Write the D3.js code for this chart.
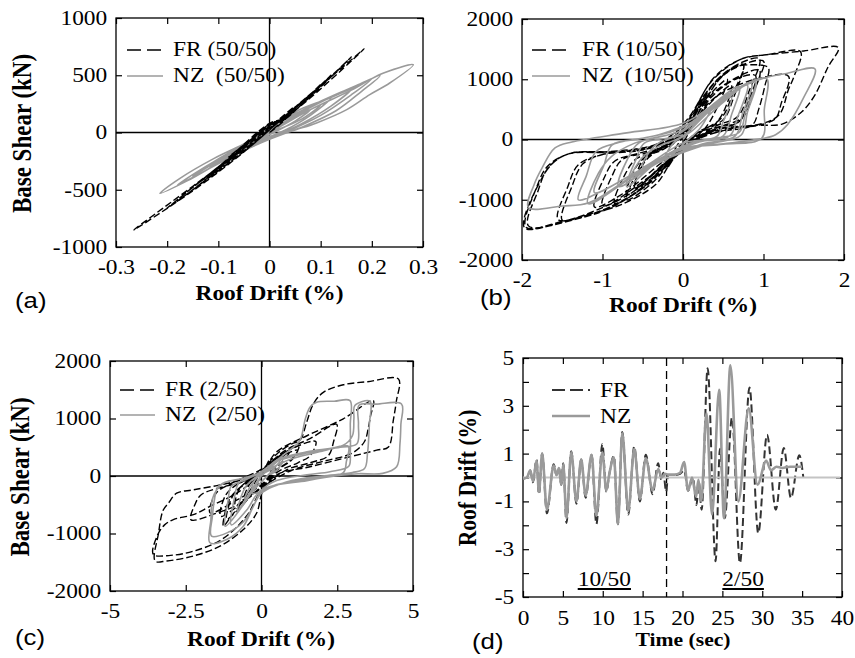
<!DOCTYPE html>
<html>
<head>
<meta charset="utf-8">
<script src="https://cdn.jsdelivr.net/npm/d3@7"></script>
<style>
  body { margin: 0; background: #fff; }
  svg { display: block; }
</style>
</head>
<body>
<svg id="chart" width="855" height="658"></svg>
<script>
// ---- data ----
// (a) 50/50 : [roof drift %, base shear kN]
const frA = [
  [0,0],[0.03,110],[0.05,230],
  [0.02,120],[-0.03,-40],[-0.08,-215],
  [-0.05,-120],[0.0,60],[0.03,115],[0.1,420],
  [0.06,250],[0.0,30],[-0.05,-150],[-0.15,-470],
  [-0.11,-350],[-0.05,-120],[0.0,70],[0.03,120],[0.12,500],
  [0.08,330],[0.0,40],[-0.1,-300],[-0.2,-660],
  [-0.15,-480],[-0.05,-130],[0.0,75],[0.03,125],[0.16,660],
  [0.12,490],[0.03,140],[-0.05,-170],[-0.15,-510],[-0.265,-850],
  [-0.22,-700],[-0.1,-300],[0.0,80],[0.03,128],[0.185,730],
  [0.14,560],[0.05,220],[-0.05,-160],[-0.18,-600],
  [-0.13,-430],[-0.03,-50],[0.02,100],[0.1,410],
  [0.06,260],[-0.04,-130],[-0.12,-400],
  [-0.08,-250],[0.0,40],[0.05,200],[0.0,0]
]
const nzA = [
  [0,0],[0.04,120],[0.08,200],
  [0.05,100],[0.0,-20],[-0.06,-160],
  [-0.03,-80],[0.0,0],[0.06,170],[0.12,300],
  [0.08,150],[0.03,20],[-0.04,-110],[-0.1,-250],
  [-0.06,-140],[0.0,10],[0.08,230],[0.16,380],
  [0.12,230],[0.06,70],[0.0,-50],[-0.08,-200],[-0.15,-380],
  [-0.1,-230],[-0.04,-80],[0.02,90],[0.1,270],[0.17,410],[0.216,496],
  [0.18,360],[0.13,190],[0.07,60],[0.0,-60],[-0.08,-220],[-0.16,-420],[-0.214,-531],
  [-0.175,-400],[-0.11,-230],[-0.045,-90],[0.0,20],[0.053,186],[0.118,302],[0.183,432],[0.223,519],[0.281,592],
  [0.235,432],[0.196,331],[0.151,200],[0.092,84],[0.053,26],[0.0,-50],[-0.09,-250],[-0.18,-460],
  [-0.14,-340],[-0.07,-160],[0.0,0],[0.08,200],[0.16,370],[0.2,470],
  [0.16,330],[0.1,150],[0.03,0],[-0.05,-140],[-0.12,-320],
  [-0.08,-200],[-0.02,-50],[0.05,130],[0.1,240],
  [0.06,110],[0.0,0]
]

// (b) 10/50
const frB = [
  [0,0],[0.12,360],[0.3,780],
  [0.2,470],[0.05,60],[-0.2,-480],
  [-0.1,-160],[0.05,150],[0.3,800],[0.55,1130],[0.75,1230],
  [0.62,760],[0.48,360],[0.25,150],[-0.05,-160],[-0.35,-680],[-0.7,-1000],
  [-0.58,-560],[-0.45,-260],[-0.15,-100],[0.1,300],[0.4,950],[0.7,1220],[1.0,1300],
  [0.88,820],[0.75,380],[0.5,230],[0.15,90],[-0.14,-360],[-0.34,-746],[-0.76,-1075],[-1.2,-1250],[-1.5,-1340],
  [-1.38,-780],[-1.24,-400],[-0.95,-230],[-0.45,-160],[-0.05,60],[0.25,620],[0.55,1000],
  [0.42,520],[0.27,180],[0.0,-120],[-0.35,-620],[-0.85,-1100],[-1.35,-1330],[-1.92,-1433],
  [-1.8,-850],[-1.68,-480],[-1.45,-250],[-0.9,-210],[-0.35,-120],[0.0,180],[0.3,800],[0.6,1180],[0.85,1240],[1.06,1190],
  [1.02,906],[0.94,500],[0.86,240],[0.5,140],[0.1,20],[-0.3,-420],[-0.75,-900],[-1.1,-1120],
  [-0.98,-640],[-0.85,-360],[-0.55,-230],[-0.1,-40],[0.2,520],[0.5,1060],[0.75,1250],
  [0.63,700],[0.5,330],[0.2,130],[-0.15,-300],[-0.5,-800],[-0.85,-1060],
  [-0.72,-580],[-0.58,-320],[-0.25,-170],[0.08,220],[0.45,1000],[0.7,1260],[0.95,1340],
  [0.82,800],[0.68,380],[0.4,220],[0.0,-150],[-0.45,-760],[-1.0,-1180],[-1.5,-1370],[-1.97,-1463],
  [-1.75,-635],[-1.59,-360],[-1.38,-223],[-0.76,-196],[-0.3,-70],[0.05,300],[0.35,960],[0.7,1320],[1.05,1410],[1.46,1457],
  [1.38,1050],[1.31,830],[1.2,420],[1.0,270],[0.6,190],[0.2,60],[-0.2,-350],[-0.6,-820],
  [-0.48,-380],[-0.3,-170],[0.05,120],[0.35,700],[0.65,1000],[0.9,1060],
  [0.8,600],[0.7,300],[0.4,180],[0.0,-180],[-0.5,-800],[-1.0,-1170],[-1.5,-1360],[-1.95,-1455],
  [-1.82,-800],[-1.68,-440],[-1.4,-230],[-0.9,-200],[-0.3,-60],[0.05,330],[0.4,1050],[0.75,1350],[1.0,1400],[1.5,1470],[1.93,1524],
  [1.8,1200],[1.64,741],[1.48,466],[1.23,256],[0.9,234],[0.4,150],[0.0,-170],[-0.5,-760],[-1.0,-1130],[-1.55,-1330],
  [-1.43,-780],[-1.3,-420],[-1.0,-250],[-0.5,-170],[0.0,120],[0.4,700],[0.9,1000],[1.31,1050],
  [1.22,600],[1.15,350],[0.95,240],[0.6,180],[0.1,-50],[-0.4,-600],[-1.0,-1100],
  [-0.88,-600],[-0.75,-330],[-0.4,-200],[0.0,100],[0.4,800],[0.95,1150],
  [0.82,620],[0.7,300],[0.3,120],[-0.1,-250],[-0.7,-920],
  [-0.58,-450],[-0.4,-220],[0.0,50],[0.3,550],[0.6,900],
  [0.48,400],[0.3,130],[0.0,-150],[-0.6,-800],
  [-0.45,-300],[-0.2,-100],[0.1,150]
]
const nzB = [
  [0,0],[0.15,260],[0.35,520],
  [0.22,200],[0.05,-20],[-0.25,-380],
  [-0.12,-60],[0.1,130],[0.45,560],[0.8,900],
  [0.68,380],[0.58,60],[0.2,-40],[-0.25,-300],[-0.7,-780],
  [-0.58,-320],[-0.48,-60],[-0.1,60],[0.35,500],[0.65,820],[0.9,960],
  [0.78,480],[0.7,120],[0.4,20],[0.0,-120],[-0.6,-600],[-1.18,-1066],
  [-1.05,-560],[-0.89,-283],[-0.6,-60],[0.0,160],[0.35,560],[0.7,880],
  [0.6,400],[0.5,60],[0.1,-60],[-0.3,-330],[-0.66,-670],
  [-0.5,-290],[-0.31,-120],[0.0,60],[0.4,560],[0.85,930],
  [0.74,430],[0.65,60],[0.2,-90],[-0.5,-500],[-1.17,-1050],[-1.5,-1104],[-1.92,-1130],
  [-1.85,-750],[-1.75,-471],[-1.59,-141],[-1.38,-41],[-0.7,110],[0.0,268],[0.4,600],[0.75,900],[1.04,1010],
  [1.01,500],[0.98,25],[0.5,-80],[0.0,-160],[-0.6,-560],[-1.1,-880],
  [-0.98,-420],[-0.88,-90],[-0.5,20],[0.0,200],[0.5,700],[0.9,960],
  [0.8,450],[0.72,70],[0.3,-80],[-0.3,-380],[-0.8,-780],
  [-0.68,-300],[-0.55,-60],[0.0,160],[0.6,780],[1.0,1017],[1.3,1100],[1.64,1171],
  [1.5,700],[1.3,250],[1.15,80],[0.98,14],[0.5,-70],[0.0,-140],[-0.5,-480],[-1.0,-850],[-1.3,-1000],
  [-1.2,-600],[-1.08,-200],[-0.8,-50],[-0.3,80],[0.2,350],[0.6,700],
  [0.5,300],[0.42,50],[0.0,-60],[-0.5,-450],
  [-0.35,-100],[0.0,80]
]

// (c) 2/50
const frC = [
  [0,0],[0.25,280],[0.1,120],[-0.3,-250],[-0.6,-420],
  [-0.4,-150],[0,60],[0.1,120],
  [-0.3,-300],[-0.8,-600],[-1.15,-750],
  [-0.9,-300],[-0.4,-100],[-0.1,20],
  [-0.5,-350],[-1.0,-700],[-1.26,-874],
  [-1.05,-400],[-0.6,-150],[0,80],[0.5,380],[1.0,560],[1.27,620],[1.5,950],[1.71,1253],[2.04,1455],[2.7,1587],[3.5,1640],[4.52,1685],
  [4.45,1300],[4.35,966],[4.19,506],[3.8,449],[2.92,334],[1.6,161],[0.5,20],[0.05,-250],[-0.16,-644],[-0.6,-931],[-1.37,-1219],[-2.25,-1391],[-3.13,-1478],[-3.51,-1478],
  [-3.4,-1000],[-3.25,-600],[-3.07,-471],[-2.8,-299],[-2.25,-241],[-1.37,-155],[-0.5,-40],[0,90],[0.6,330],[1.2,450],
  [0.9,250],[0.4,80],[0,-150],[-0.82,-420],[-1.7,-640],
  [-1.5,-300],[-1.0,-130],[0,120],[0.8,450],[1.6,650],[2.48,900],
  [2.38,600],[2.2,350],[1.6,230],[0.8,100],[0,-250],[-0.5,-700],[-1.3,-1100],[-2.2,-1300],[-3.0,-1380],[-3.57,-1363],
  [-3.45,-1050],[-3.2,-850],[-2.91,-759],[-2.25,-672],[-1.7,-529],[-0.82,-299],[0,50],[0.5,420],[1.5,700],[2.7,995],[3.69,1311],
  [3.6,1050],[3.53,851],[3.4,600],[3.0,400],[2.0,250],[1.0,100],[0,-200],[-0.8,-500],[-1.5,-650],[-2.33,-760],
  [-2.2,-500],[-2.0,-330],[-1.5,-220],[-0.5,-80],[0,100],[0.8,420],[1.79,600],
  [1.6,350],[1.2,230],[0.5,60],[0,-200],[-0.6,-450],[-1.35,-700],
  [-1.2,-350],[-0.9,-180],[0,60],[0.6,350],[1.23,520],
  [1.0,280],[0.5,100],[0,-180],[-0.86,-520],
  [-0.7,-200],[0,50],[0.93,420],
  [0.6,200],[0.2,50]
]
const nzC = [
  [0,0],[0.3,150],[0.65,300],[0.4,120],[0,-100],[-0.55,-400],[-0.3,-120],[0,30],[-0.4,-300],[-0.8,-620],[-0.5,-170],[0,30],[-0.6,-500],[-1.2,-874],
  [-1.1,-420],[-1.0,-180],[-0.5,-60],[0,80],[0.5,276],[1.0,480],[1.27,621],[1.45,1000],[1.6,1196],[1.82,1282],[2.4,1300],[2.92,1311],
  [2.93,900],[2.93,400],[2.88,170],[2.26,75],[1.5,20],[0.5,-80],[0,-250],[-0.27,-529],[-0.6,-800],[-1.1,-980],[-1.65,-1046],
  [-1.62,-700],[-1.55,-400],[-1.45,-200],[-1.2,-110],[-0.6,-40],[0,60],[0.5,276],[1.5,420],[2.7,535],[3.0,700],[3.05,1000],[3.08,1225],[3.58,1300],
  [3.56,900],[3.5,400],[3.4,130],[3.0,60],[2.0,0],[1.0,-80],[0,-299],[-0.27,-529],[-0.6,-874],[-1.15,-1104],[-1.7,-1161],
  [-1.67,-759],[-1.62,-400],[-1.48,-241],[-1.26,-126],[-0.6,-40],[0,70],[0.5,250],[1.5,400],[2.6,500],[3.15,560],[3.2,900],[3.22,1230],[3.8,1250],[4.62,1253],
  [4.6,900],[4.57,563],[4.46,161],[4.0,46],[3.2,40],[2.7,17],[1.5,-80],[0,-241],[-0.5,-600],[-1.0,-850],
  [-0.9,-400],[-0.75,-120],[-0.4,-30],[0,60],[1.0,300],[2.0,430],[2.86,520],
  [2.8,250],[2.7,60],[1.5,-50],[0.5,-150],[-0.3,-300],
  [-0.2,-50],[0.2,80],[0.7,250],
  [0.5,100],[0.3,30],[0.45,120]
]

// (d) roof drift history : [time s, drift %]
const frDrift = [
  [0,-0.05],[0.5,0.0],[0.9,0.3],[1.25,-0.2],[1.7,0.75],[2.0,-0.7],[2.4,1.0],[3.0,-1.5],
  [3.85,0.55],[4.2,0.1],[4.5,0.4],[4.8,-0.3],[5.05,0.6],[5.45,-1.9],[6.05,1.1],[6.7,-1.1],
  [7.3,0.75],[7.85,-0.85],[8.6,0.95],[9.2,-1.95],[9.95,1.4],[10.45,-0.6],[10.8,0.1],[11.4,0.9],
  [11.9,-1.95],[12.45,1.9],[13.2,-1.55],[13.95,1.3],[14.65,-1.0],[15.4,0.95],[16.25,-0.7],
  [16.95,0.6],[17.35,-0.1],[17.6,0.2],[17.95,-0.6],[18.2,0.1],
  [19.0,0.1],[19.7,0.15],[20.2,0.3],[20.7,-0.55],[21.3,0.0],[21.75,-1.15],[22.05,-0.2],[22.4,-1.35],
  [23.15,4.57],[24.15,-3.5],[24.7,1.2],[25.3,-1.7],[26.2,2.5],[27.2,-3.58],[28.4,3.77],[29.5,-2.33],
  [30.6,1.79],[31.7,-1.35],[32.7,1.23],[33.6,-0.86],[34.65,0.93],[35.15,0.0]
]
const nzDrift = [
  [0,-0.05],[0.5,0.0],[0.9,0.3],[1.25,-0.15],[1.7,0.7],[2.0,-0.6],[2.4,1.0],[3.0,-1.35],
  [3.85,0.5],[4.2,0.1],[4.5,0.4],[4.8,-0.3],[5.05,0.55],[5.45,-1.7],[6.05,1.05],[6.7,-1.0],
  [7.3,0.75],[7.85,-0.75],[8.6,0.95],[9.2,-1.6],[9.95,1.05],[10.45,-0.55],[10.8,0.1],[11.4,0.85],
  [11.9,-1.95],[12.45,1.85],[13.2,-1.4],[13.95,1.2],[14.65,-0.9],[15.4,0.8],[16.25,-0.55],
  [16.95,0.35],[17.4,0.0],[17.8,0.15],[18.2,0.12],
  [19.0,0.12],[19.7,0.2],[20.2,0.65],[20.7,-0.55],[21.2,0.0],[21.7,-0.8],[22.0,-0.1],[22.35,-1.0],
  [23.0,2.7],[23.7,-1.55],[24.6,3.67],[25.2,-1.7],[26.0,4.69],[27.0,-1.0],[28.3,2.9],[29.4,-0.3],
  [30.5,0.7],[31.1,0.3],[31.8,0.45],[32.5,0.4],[33.5,0.45],[35.0,0.45]
]

// tick values and labels
const aXTicks = [-0.3,-0.2,-0.1,0,0.1,0.2,0.3]
const aXLabels = ["-0.3","-0.2","-0.1","0","0.1","0.2","0.3"]
const aYTicks = [-1000,-500,0,500,1000]
const aYLabels = ["-1000","-500","0","500","1000"]
const bXTicks = [-2,-1,0,1,2]
const bXLabels = ["-2","-1","0","1","2"]
const shearTicks = [-2000,-1000,0,1000,2000]
const shearLabels = ["-2000","-1000","0","1000","2000"]
const cXTicks = [-5,-2.5,0,2.5,5]
const cXLabels = ["-5","-2.5","0","2.5","5"]
const dXTicks = [0,5,10,15,20,25,30,35,40]
const dXLabels = ["0","5","10","15","20","25","30","35","40"]
const dYTicks = [-5,-4,-3,-2,-1,0,1,2,3,4,5]
const dYLabels = ["-5","","-3","","-1","","1","","3","","5"]

// ---- drawing ----
const SERIF = "'Liberation Serif', 'Times New Roman', serif"
const SANS = "'Liberation Sans', Arial, sans-serif"
const SX = 1.17 // the figure's type is a little wide
const FR_COL = "#000"
const NZ_COL = "#9a9a9a"

const svg = d3.select("#chart").attr("font-family", SERIF)

function txt(x, y, s, o = {}) {
  const rot = o.rot ? " rotate(-90)" : ""
  return svg.append("text")
    .attr("transform", `translate(${x},${y}) scale(${SX},1)${rot}`)
    .attr("text-anchor", o.anchor || "start")
    .attr("font-size", o.size || 20)
    .attr("font-weight", o.bold ? "bold" : null)
    .attr("font-family", o.sans ? SANS : SERIF)
    .style("white-space", "pre")
    .text(s)
}

function frame(box, xDom, yDom, xt, xl, yt, yl, padB) {
  const x = d3.scaleLinear().domain(xDom).range([box.l, box.r])
  const y = d3.scaleLinear().domain(yDom).range([box.b, box.t])
  const g = svg.append("g")
  const lab = (vals, labels) => (d) => labels[vals.indexOf(d)]
  const none = () => ""
  const tidy = (sel) => {
    sel.select(".domain").remove()
    sel.attr("font-size", 20).attr("font-family", SERIF)
    sel.selectAll(".tick line").attr("stroke-width", 1.2)
    sel.selectAll(".tick text").attr("transform", `scale(${SX},1)`)
  }
  g.append("g").attr("transform", `translate(0,${box.b})`)
    .call(d3.axisBottom(x).tickValues(xt).tickSizeInner(-6).tickSizeOuter(0).tickPadding(padB).tickFormat(lab(xt, xl)))
    .call(tidy)
  g.append("g").attr("transform", `translate(0,${box.t})`)
    .call(d3.axisTop(x).tickValues(xt).tickSizeInner(-6).tickSizeOuter(0).tickFormat(none))
    .call(tidy)
  g.append("g").attr("transform", `translate(${box.l},0)`)
    .call(d3.axisLeft(y).tickValues(yt).tickSizeInner(-6).tickSizeOuter(0).tickPadding(7.5).tickFormat(lab(yt, yl)))
    .call(tidy)
  g.append("g").attr("transform", `translate(${box.r},0)`)
    .call(d3.axisRight(y).tickValues(yt).tickSizeInner(-6).tickSizeOuter(0).tickFormat(none))
    .call(tidy)
  g.append("rect")
    .attr("x", box.l).attr("y", box.t)
    .attr("width", box.r - box.l).attr("height", box.b - box.t)
    .attr("fill", "none").attr("stroke", "#000").attr("stroke-width", 1.3)
  return {x, y, g}
}

function cross(p, box) {
  p.g.append("line").attr("x1", p.x(0)).attr("x2", p.x(0)).attr("y1", box.t).attr("y2", box.b)
    .attr("stroke", "#000").attr("stroke-width", 1.3)
  p.g.append("line").attr("x1", box.l).attr("x2", box.r).attr("y1", p.y(0)).attr("y2", p.y(0))
    .attr("stroke", "#000").attr("stroke-width", 1.3)
}

function loop(p, data, color, width, dash, curve) {
  const ln = d3.line().x((d) => p.x(d[0])).y((d) => p.y(d[1])).curve(curve || d3.curveCatmullRom.alpha(0.5))
  p.g.append("path").datum(data)
    .attr("fill", "none").attr("stroke", color).attr("stroke-width", width)
    .attr("stroke-dasharray", dash).attr("stroke-linejoin", "round")
    .attr("d", ln)
}

function legend(x0, x1, xt, rows) {
  rows.forEach((r) => {
    svg.append("line").attr("x1", x0).attr("x2", x1).attr("y1", r.y).attr("y2", r.y)
      .attr("stroke", r.color).attr("stroke-width", r.width).attr("stroke-dasharray", r.dash)
    txt(xt, r.base, r.label)
  })
}

// panel (a)
const boxA = {l: 116, r: 423, t: 18, b: 247}
const pA = frame(boxA, [-0.3, 0.3], [-1000, 1000], aXTicks, aXLabels, aYTicks, aYLabels, 12.5)
cross(pA, boxA)
loop(pA, nzA, NZ_COL, 1.6, null)
loop(pA, frA, FR_COL, 1.4, "7,3")
legend(127, 163, 173, [
  {y: 50, base: 56, label: "FR (50/50)", color: FR_COL, width: 1.5, dash: "14,6"},
  {y: 76, base: 82, label: "NZ  (50/50)", color: NZ_COL, width: 1.6, dash: null},
])

// panel (b)
const boxB = {l: 522, r: 844, t: 19, b: 260}
const pB = frame(boxB, [-2, 2], [-2000, 2000], bXTicks, bXLabels, shearTicks, shearLabels, 12.5)
cross(pB, boxB)
loop(pB, frB, FR_COL, 1.4, "7,3")
loop(pB, nzB, NZ_COL, 1.6, null)
legend(532, 570, 582, [
  {y: 50, base: 56, label: "FR (10/50)", color: FR_COL, width: 1.5, dash: "14,6"},
  {y: 76, base: 82, label: "NZ  (10/50)", color: NZ_COL, width: 1.6, dash: null},
])

// panel (c)
const boxC = {l: 110, r: 413, t: 361, b: 591}
const pC = frame(boxC, [-5, 5], [-2000, 2000], cXTicks, cXLabels, shearTicks, shearLabels, 12.5)
cross(pC, boxC)
loop(pC, frC, FR_COL, 1.4, "7,3")
loop(pC, nzC, NZ_COL, 1.6, null)
legend(120, 155, 165, [
  {y: 390, base: 396, label: "FR (2/50)", color: FR_COL, width: 1.5, dash: "14,6"},
  {y: 415, base: 421, label: "NZ  (2/50)", color: NZ_COL, width: 1.6, dash: null},
])

// panel (d)
const boxD = {l: 523, r: 842, t: 358, b: 597}
const pD = frame(boxD, [0, 40], [-5, 5], dXTicks, dXLabels, dYTicks, dYLabels, 13.5)
pD.g.append("line").attr("x1", pD.x(18)).attr("x2", pD.x(18)).attr("y1", boxD.t).attr("y2", boxD.b)
  .attr("stroke", "#000").attr("stroke-width", 1.3).attr("stroke-dasharray", "8,5")
loop(pD, frDrift, "#333", 2, "8,4", d3.curveMonotoneX)
pD.g.append("line").attr("x1", boxD.l).attr("x2", boxD.r - 2).attr("y1", pD.y(0)).attr("y2", pD.y(0))
  .attr("stroke", "#c4c4c4").attr("stroke-width", 1.8)
loop(pD, nzDrift, NZ_COL, 2.6, null, d3.curveMonotoneX)
legend(552, 590, 600, [
  {y: 390, base: 397, label: "FR", color: "#333", width: 2, dash: "13,5"},
  {y: 416, base: 423, label: "NZ", color: NZ_COL, width: 2.6, dash: null},
])
;[[10.2, "10/50"], [27.6, "2/50"]].forEach(([t, s]) => {
  const el = txt(pD.x(t), 586, s, {anchor: "middle"})
  const w = el.node().getComputedTextLength() * SX
  svg.append("line").attr("x1", pD.x(t) - w / 2).attr("x2", pD.x(t) + w / 2)
    .attr("y1", 589).attr("y2", 589).attr("stroke", "#000").attr("stroke-width", 2)
})

// axis titles and panel tags
txt(269.5, 300, "Roof Drift (%)", {anchor: "middle", bold: true})
txt(683, 312, "Roof Drift (%)", {anchor: "middle", bold: true})
txt(261, 646, "Roof Drift (%)", {anchor: "middle", bold: true})
txt(683, 646, "Time (sec)", {anchor: "middle", bold: true, size: 18.5})
txt(31, 133.5, "Base Shear (kN)", {anchor: "middle", bold: true, size: 23, rot: true})
txt(29, 477, "Base Shear (kN)", {anchor: "middle", bold: true, size: 23, rot: true})
txt(476, 478, "Roof Drift (%)", {anchor: "middle", bold: true, size: 21.6, rot: true})
txt(15, 308, "(a)", {sans: true, size: 22})
txt(480, 305, "(b)", {sans: true, size: 22})
txt(15, 645, "(c)", {sans: true, size: 22})
txt(472, 649, "(d)", {sans: true, size: 22})
</script>
</body>
</html>
